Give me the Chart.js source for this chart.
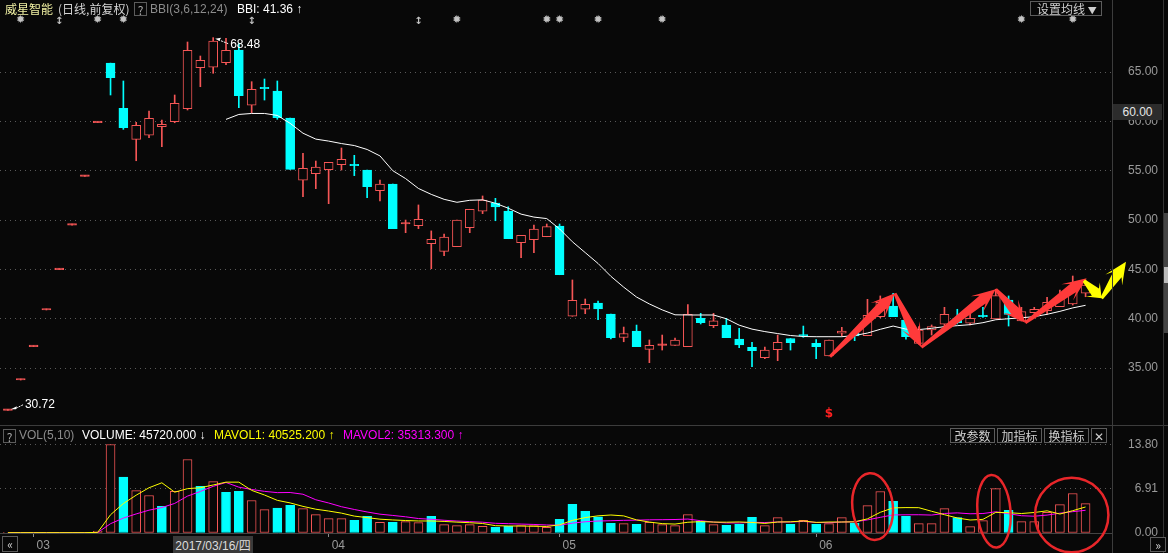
<!DOCTYPE html>
<html>
<head>
<meta charset="utf-8">
<script src="https://cdn.jsdelivr.net/npm/chart.js@4.4.1/dist/chart.umd.min.js"></script>
<style>
html, body { margin: 0; padding: 0; background: #080808; }
#wrap { position: relative; width: 1168px; height: 553px; overflow: hidden; background: #080808;
        font-family: 'Liberation Sans', Arial, 'Noto Sans CJK SC', sans-serif; font-size: 12px; }
.abs { position: absolute; white-space: nowrap; }
.cjk { font-family: 'Noto Sans CJK SC', sans-serif; }
.btn { position: absolute; border: 1px solid #5c5c5c; color: #cfcfcf; font-family: 'Noto Sans CJK SC', sans-serif;
       font-size: 12px; line-height: 13px; text-align: center; box-sizing: border-box; background: #080808; }
</style>
</head>
<body>
<div id="wrap">
  <div class="abs" style="left:0;top:0;width:1168px;height:425px"><canvas id="main"></canvas></div>
  <div class="abs" style="left:0;top:427px;width:1168px;height:126px"><canvas id="vol"></canvas></div>

  <!-- 分隔线 -->
  <div class="abs" style="left:0;top:425px;width:1168px;height:1px;background:#3c3c3c"></div>
  <div class="abs" style="left:1112px;top:0;width:1px;height:553px;background:#3c3c3c"></div>
  <div class="abs" style="left:1163px;top:0;width:1px;height:553px;background:#333"></div>
  <div class="abs" style="left:1164px;top:213px;width:4px;height:120px;background:#444"></div>
  <div class="abs" style="left:1164px;top:267px;width:4px;height:16px;background:#bbb"></div>

  <!-- 标题 -->
  <div class="abs cjk" style="left:5px;top:0;line-height:18px;color:#f2f2a4">威星智能</div>
  <div class="abs cjk" style="left:58px;top:0;line-height:18px;color:#d4d4d4">(日线,前复权)</div>
  <div class="btn" style="left:134px;top:2px;width:13px;height:14px;color:#aaa">?</div>
  <div class="abs" style="left:150px;top:0;line-height:18px;color:#8c8c8c">BBI(3,6,12,24)</div>
  <div class="abs" style="left:237px;top:0;line-height:18px;color:#ffffff">BBI: 41.36 ↑</div>
  <div class="btn" style="left:1030px;top:1px;width:72px;height:15px;text-align:left;padding-left:6px">设置均线 <span style="font-size:9px">▼</span></div>

  <!-- 十字光标价格 -->
  <div class="abs" style="left:1113px;top:104px;width:49px;height:16px;background:#2c2c2c;color:#e6e6e6;line-height:16px;text-align:center">60.00</div>

  <!-- 成交量标题 -->
  <div class="btn" style="left:3px;top:429px;width:13px;height:14px;color:#aaa">?</div>
  <div class="abs" style="left:19px;top:428px;line-height:15px;color:#8c8c8c">VOL(5,10)</div>
  <div class="abs" style="left:82px;top:428px;line-height:15px;color:#ffffff">VOLUME: 45720.000 ↓</div>
  <div class="abs" style="left:214px;top:428px;line-height:15px;color:#ffff00">MAVOL1: 40525.200 ↑</div>
  <div class="abs" style="left:343px;top:428px;line-height:15px;color:#ff00ff">MAVOL2: 35313.300 ↑</div>
  <div class="btn" style="left:950px;top:428px;width:45px;height:15px">改参数</div>
  <div class="btn" style="left:997px;top:428px;width:45px;height:15px">加指标</div>
  <div class="btn" style="left:1044px;top:428px;width:45px;height:15px">换指标</div>
  <div class="btn" style="left:1091px;top:428px;width:16px;height:15px">✕</div>

  <!-- 底部 -->
  <div class="btn" style="left:2px;top:536px;width:16px;height:16px;line-height:14px">«</div>
  <div class="btn" style="left:1150px;top:537px;width:16px;height:15px;line-height:13px">»</div>
  <div class="abs" style="left:173px;top:536px;width:80px;height:17px;background:#3a3a3a;color:#dcdcdc;line-height:17px;text-align:center">2017/03/16/<span class="cjk">四</span></div>
</div>

<script>
// 日K数据 (2017-02 ~ 2017-06), 单位: 元 / 万手
const opens  = [30.72,33.79,37.17,40.89,44.98,49.48,54.43,59.87,65.9,61.32,
                58.18,58.59,59.46,59.96,61.28,65.44,65.48,65.94,67.23,61.63,
                63.4,63.07,60.34,54.03,54.7,55.1,55.6,55.6,55.07,52.97,
                53.65,49.6,49.43,47.6,46.83,47.3,49.23,50.9,51.73,50.92,
                47.7,48.0,48.31,49.4,40.25,40.96,41.6,40.48,38.1,38.76,
                36.9,37.3,37.3,37.17,40.04,39.3,39.37,37.95,37.11,36.05,
                36.87,38.0,38.4,37.51,36.23,38.53,38.53,38.28,40.21,41.29,
                39.87,37.51,38.86,39.44,40.04,39.54,40.25,39.98,41.9,39.77,
                40.62,40.82,41.22,41.49,42.58];
const highs  = [30.72,33.79,37.17,40.89,44.98,49.48,54.43,59.87,65.9,64.09,
                59.9,61.05,60.14,62.67,68.04,66.62,68.48,68.41,67.9,64.02,
                64.29,64.09,60.34,56.76,55.98,55.85,57.3,56.56,55.07,54.06,
                53.65,50.0,51.53,48.9,48.59,50.0,51.09,52.44,52.2,51.35,
                48.45,49.5,49.6,49.6,43.93,42.0,41.8,40.48,39.16,39.36,
                37.85,38.35,38.05,41.43,40.55,40.55,40.04,39.03,37.62,37.14,
                38.35,38.0,39.26,37.9,37.85,39.13,38.86,41.97,42.31,42.58,
                39.87,39.2,39.37,41.16,40.96,40.45,41.16,42.99,42.31,41.16,
                41.16,42.17,42.91,44.33,43.93];
const lows   = [30.72,33.79,37.17,40.89,44.98,49.48,54.43,59.87,62.67,59.19,
                56.01,58.34,57.43,59.86,61.15,63.51,64.87,65.74,61.38,60.88,
                62.16,60.21,55.14,52.37,53.18,51.66,55.07,54.5,52.26,51.93,
                49.13,48.72,49.13,45.07,46.39,47.3,48.72,50.65,49.93,48.11,
                46.19,46.69,48.31,44.46,40.25,40.51,39.9,37.95,37.67,37.17,
                35.55,36.83,37.3,37.17,39.47,39.1,38.08,37.07,35.14,35.95,
                35.75,36.83,38.12,35.95,36.23,38.25,37.78,38.28,40.1,40.21,
                37.92,37.44,38.35,39.1,39.47,39.37,40.14,39.98,39.26,39.77,
                40.55,40.45,41.22,41.39,42.23];
const closes = [30.72,33.79,37.17,40.89,44.98,49.48,54.43,59.87,64.42,59.36,
                59.6,60.31,59.7,61.83,67.2,66.19,68.14,67.2,62.6,63.25,
                63.3,60.37,55.14,55.24,55.37,55.85,56.15,55.5,53.38,53.65,
                49.13,49.7,50.07,48.05,48.28,50.0,51.09,52.03,51.32,48.11,
                48.45,49.09,49.33,44.46,41.87,41.46,41.0,38.08,38.51,37.17,
                37.3,37.38,37.85,40.45,39.6,39.8,38.08,37.34,36.76,36.83,
                37.62,37.57,38.25,37.17,37.85,38.76,38.25,40.35,41.67,40.21,
                38.18,38.86,39.2,40.45,39.6,40.04,40.2,42.34,40.45,40.72,
                40.96,41.67,42.23,42.99,43.42];
const volumes = [0.05,0.05,0.05,0.05,0.05,0.05,0.05,0.3,13.77,8.68,
                 6.6,5.83,4.16,6.5,11.43,7.27,8.0,6.34,6.5,5.05,
                 3.64,3.89,4.31,3.8,2.87,2.24,2.24,1.98,2.6,1.67,
                 1.67,1.78,1.62,2.6,1.31,1.15,1.31,1.04,0.89,1.04,
                 1.15,1.15,0.89,2.13,4.47,3.38,2.5,1.51,1.46,1.36,
                 1.67,1.3,1.15,2.87,1.87,1.3,1.2,1.36,2.45,1.15,
                 2.4,1.36,1.98,1.36,1.46,2.4,1.51,4.27,6.45,4.94,
                 2.6,1.46,1.46,3.8,2.4,1.0,1.93,6.91,3.54,1.78,
                 1.78,3.22,4.42,6.14,4.57];
const mavol1 = [0.05,0.05,0.05,0.05,0.05,0.05,0.05,0.1,2.84,4.58,
                5.88,7.04,7.81,6.35,6.9,7.04,7.47,7.91,7.91,6.63,
                5.91,5.08,4.68,4.14,3.7,3.42,3.09,2.63,2.39,2.15,
                2.03,1.94,1.87,1.87,1.8,1.69,1.6,1.48,1.14,1.09,
                1.09,1.05,1.02,1.27,1.96,2.4,2.67,2.8,2.66,2.04,
                1.7,1.46,1.39,1.67,1.77,1.7,1.68,1.72,1.64,1.49,
                1.71,1.74,1.87,1.65,1.71,1.71,1.74,2.2,3.22,3.91,
                3.95,3.94,3.38,2.85,2.34,2.02,2.12,3.21,3.16,3.03,
                3.19,3.45,2.95,3.47,4.05];
const mavol2 = [0.05,0.05,0.05,0.05,0.05,0.05,0.05,0.08,1.45,2.32,
                2.97,3.55,3.96,4.6,5.74,6.46,7.26,7.86,7.13,6.77,
                6.48,6.28,6.3,6.03,5.17,4.67,4.09,3.66,3.27,2.93,
                2.73,2.52,2.25,2.13,1.98,1.86,1.77,1.68,1.51,1.45,
                1.39,1.33,1.25,1.21,1.53,1.75,1.86,1.91,1.97,2.0,
                2.05,2.07,2.1,2.17,1.91,1.7,1.57,1.56,1.66,1.63,
                1.71,1.71,1.8,1.65,1.6,1.71,1.74,2.04,2.44,2.81,
                2.83,2.84,2.79,3.04,3.13,2.99,3.03,3.3,3.0,2.69,
                2.61,2.79,3.08,3.32,3.53];
// BBI(3,6,12,24) 从第17根K线开始
const bbiStart = 17;
const bbi = [60.2,60.7,60.8,60.8,60.6,59.8,58.8,58.2,58.0,57.75,
             57.55,57.15,56.5,55.0,54.2,53.2,52.6,52.1,51.8,52.0,
             52.05,51.7,51.2,50.6,50.3,50.15,49.1,47.8,46.7,45.6,
             44.3,43.2,42.2,41.5,40.9,40.4,40.38,40.38,40.38,40.0,
             39.35,38.95,38.7,38.5,38.3,38.2,38.18,38.18,38.18,38.3,
             38.55,38.93,39.26,38.95,38.9,39.03,39.2,39.3,39.4,39.6,
             39.9,40.0,40.1,40.21,40.45,40.75,41.1,41.36];

const priceTicks = [35, 40, 45, 50, 55, 60, 65];
const volTicks = [0, 6.91, 13.80];
const monthIdx = [2, 25, 43, 63];
const monthLabels = ['03', '04', '05', '06'];

// 信息地雷位置
const starIdx = [1, 7, 9, 35, 42, 43, 46, 51, 79, 83];
const diamondIdx = [4, 19, 32];
const dollarIdx = 64;

// 手绘箭头 [起点序号, 起点价, 终点序号, 终点价]
const redArrows = [
  [64.08, 36.16, 69.14, 42.58],
  [69.14, 42.58, 71.2, 37.11],
  [71.2, 37.11, 77.0, 42.98],
  [77.0, 42.98, 79.3, 39.6],
  [79.3, 39.6, 84.08, 44.1]
];
const yellowArrows = [
  [83.87, 43.86, 85.25, 42.07],
  [85.25, 42.07, 87.15, 45.78]
];
// 成交量圈 [中心序号, 中心量, 半径(序号), 半径(量), 旋转]
const volCircles = [
  [67.4, 4.11, 1.58, 5.2, -0.1],
  [76.86, 3.38, 1.29, 5.65, -0.08],
  [82.92, 2.8, 2.86, 5.8, 0]
];

const RED = '#f55656';
const CYAN = '#00ffff';
const BG = '#080808';
const GRID = '#5a5a5a';
const XMIN = -0.616, XMAX = 86.06;

const idx = closes.map((c, i) => i);
const candleUp = closes.map((c, i) => c >= opens[i]);
const volUp = closes.map((c, i) => i === 0 || c >= closes[i - 1]);

Chart.defaults.font.family = "'Liberation Sans', Arial, sans-serif";
Chart.defaults.font.size = 12;
Chart.defaults.color = '#9a9a9a';

function fixY(s) { s.width = 56; s.paddingTop = 0; s.paddingBottom = 0; }

function fatArrow(ctx, x1, y1, x2, y2, color) {
  const dx = x2 - x1, dy = y2 - y1;
  const len = Math.hypot(dx, dy);
  const ux = dx / len, uy = dy / len, nx = -uy, ny = ux;
  const head = Math.min(24, len * 0.5), hw = 10, w0 = 1.5, w1 = 5;
  const bx = x2 - ux * head, by = y2 - uy * head;
  const nbx = x2 - ux * head * 0.7, nby = y2 - uy * head * 0.7;
  ctx.fillStyle = color;
  ctx.beginPath();
  ctx.moveTo(x1 + nx * w0, y1 + ny * w0);
  ctx.lineTo(nbx + nx * w1, nby + ny * w1);
  ctx.lineTo(bx + nx * hw, by + ny * hw);
  ctx.lineTo(x2, y2);
  ctx.lineTo(bx - nx * hw, by - ny * hw);
  ctx.lineTo(nbx - nx * w1, nby - ny * w1);
  ctx.lineTo(x1 - nx * w0, y1 - ny * w0);
  ctx.closePath();
  ctx.fill();
}

const mainDecor = {
  id: 'mainDecor',
  afterDraw(chart) {
    const { ctx, scales: { x, y } } = chart;
    ctx.save();
    // 信息地雷
    ctx.fillStyle = '#c4c4c4';
    ctx.textAlign = 'center';
    ctx.textBaseline = 'middle';
    ctx.font = "bold 11px 'DejaVu Sans'";
    starIdx.forEach(i => ctx.fillText('✹', x.getPixelForValue(i), 20));
    ctx.font = "bold 10px 'DejaVu Sans'";
    diamondIdx.forEach(i => ctx.fillText('↕', x.getPixelForValue(i), 21));

    // 最高价 / 最低价标注
    const hi = Math.max(...highs), hiI = highs.indexOf(hi);
    const lo = Math.min(...lows), loI = lows.indexOf(lo);
    ctx.strokeStyle = '#ffffff';
    ctx.fillStyle = '#ffffff';
    ctx.lineWidth = 1;
    let hx = x.getPixelForValue(hiI), hy = y.getPixelForValue(hi);
    ctx.beginPath(); ctx.moveTo(hx + 2, hy + 1); ctx.lineTo(hx + 8, hy); ctx.lineTo(hx + 6, hy + 3); ctx.closePath(); ctx.fill();
    ctx.setLineDash([2, 1]);
    ctx.beginPath(); ctx.moveTo(hx + 5, hy + 2); ctx.lineTo(hx + 15, hy + 6); ctx.stroke();
    ctx.setLineDash([]);
    ctx.font = "12px 'Liberation Sans'";
    ctx.textAlign = 'left';
    ctx.fillText(hi.toFixed(2), hx + 17, hy + 7);
    let lx = x.getPixelForValue(loI), ly = y.getPixelForValue(lo);
    ctx.beginPath(); ctx.moveTo(lx + 3, ly - 1); ctx.lineTo(lx + 9, ly - 4); ctx.lineTo(lx + 8, ly - 1); ctx.closePath(); ctx.fill();
    ctx.setLineDash([2, 1]);
    ctx.beginPath(); ctx.moveTo(lx + 8, ly - 2); ctx.lineTo(lx + 16, ly - 6); ctx.stroke();
    ctx.setLineDash([]);
    ctx.fillText(lo.toFixed(2), lx + 17, ly - 6);

    // $ 标记
    ctx.fillStyle = '#ff2020';
    ctx.font = "bold 12px 'DejaVu Sans'";
    ctx.textAlign = 'center';
    ctx.fillText('$', x.getPixelForValue(dollarIdx), 414);

    // 手绘箭头
    redArrows.forEach(a => fatArrow(ctx, x.getPixelForValue(a[0]), y.getPixelForValue(a[1]),
      x.getPixelForValue(a[2]), y.getPixelForValue(a[3]), '#ff3a3a'));
    yellowArrows.forEach(a => fatArrow(ctx, x.getPixelForValue(a[0]), y.getPixelForValue(a[1]),
      x.getPixelForValue(a[2]), y.getPixelForValue(a[3]), '#ffff00'));
    ctx.restore();
  }
};

const volDecor = {
  id: 'volDecor',
  afterDraw(chart) {
    const { ctx, scales: { x, y } } = chart;
    ctx.save();
    ctx.strokeStyle = '#e8262a';
    ctx.lineWidth = 2.5;
    volCircles.forEach(c => {
      const cx = x.getPixelForValue(c[0]), cy = y.getPixelForValue(c[1]);
      const rx = Math.abs(x.getPixelForValue(c[0] + c[2]) - cx);
      const ry = Math.abs(y.getPixelForValue(c[1] + c[3]) - cy);
      ctx.beginPath();
      ctx.ellipse(cx, cy, rx, ry, c[4], 0, Math.PI * 2);
      ctx.stroke();
    });
    ctx.restore();
  }
};

new Chart(document.getElementById('main'), {
  type: 'bar',
  data: {
    datasets: [
      {
        type: 'line',
        data: bbi.map((v, k) => ({ x: bbiStart + k, y: v })),
        borderColor: '#ffffff',
        borderWidth: 1,
        pointRadius: 0,
        tension: 0,
        order: 0
      },
      {
        data: idx.map(i => ({ x: i, y: [opens[i], closes[i]] })),
        backgroundColor: idx.map(i => candleUp[i] ? (Math.abs(opens[i] - closes[i]) < 0.15 ? RED : BG) : CYAN),
        borderColor: idx.map(i => candleUp[i] ? RED : CYAN),
        borderWidth: 1,
        borderSkipped: false,
        barThickness: 9,
        minBarLength: 1.5,
        grouped: false,
        order: 1
      },
      {
        data: idx.map(i => ({ x: i, y: [lows[i], highs[i]] })),
        backgroundColor: idx.map(i => candleUp[i] ? RED : CYAN),
        borderWidth: 0,
        barThickness: 1,
        minBarLength: 1,
        grouped: false,
        order: 2
      }
    ]
  },
  options: {
    responsive: true,
    maintainAspectRatio: false,
    animation: false,
    events: [],
    layout: { padding: { top: 28, left: 0, right: 0, bottom: 0 } },
    plugins: { legend: { display: false }, tooltip: { enabled: false } },
    scales: {
      x: { type: 'linear', min: XMIN, max: XMAX, offset: false, display: false },
      y: {
        position: 'right',
        min: 29.235,
        max: 69.458,
        afterBuildTicks: s => { s.ticks = priceTicks.map(v => ({ value: v })); },
        afterFit: fixY,
        ticks: { callback: v => v.toFixed(2), padding: 16, crossAlign: 'near', color: '#9a9a9a' },
        grid: { color: GRID, drawTicks: false, lineWidth: 1 },
        border: { display: false, dash: [1, 4] }
      }
    }
  },
  plugins: [mainDecor]
});

new Chart(document.getElementById('vol'), {
  type: 'bar',
  data: {
    datasets: [
      {
        type: 'line',
        data: idx.map(i => ({ x: i, y: mavol1[i] })),
        borderColor: '#ffff00',
        borderWidth: 1,
        pointRadius: 0,
        tension: 0,
        order: 0
      },
      {
        type: 'line',
        data: idx.map(i => ({ x: i, y: mavol2[i] })),
        borderColor: '#ff00ff',
        borderWidth: 1,
        pointRadius: 0,
        tension: 0,
        order: 0
      },
      {
        data: idx.map(i => ({ x: i, y: volumes[i] })),
        backgroundColor: idx.map(i => volUp[i] ? BG : CYAN),
        borderColor: idx.map(i => volUp[i] ? RED : CYAN),
        borderWidth: 1,
        borderSkipped: false,
        barThickness: 9,
        order: 1
      }
    ]
  },
  options: {
    responsive: true,
    maintainAspectRatio: false,
    animation: false,
    events: [],
    layout: { padding: { top: 0, left: 0, bottom: 0, right: 10 } },
    plugins: { legend: { display: false }, tooltip: { enabled: false } },
    scales: {
      x: {
        type: 'linear', min: XMIN, max: XMAX, offset: false,
        afterBuildTicks: s => { s.ticks = monthIdx.map(v => ({ value: v })); },
        afterFit: s => { s.height = 20; s.paddingLeft = 0; s.paddingRight = 0; },
        ticks: { callback: v => monthLabels[monthIdx.indexOf(v)], align: 'start', labelOffset: 3, padding: 1, maxRotation: 0, autoSkip: false, color: '#9a9a9a' },
        grid: { offset: false, drawOnChartArea: false, drawTicks: true, tickLength: 4, tickColor: '#8a8a8a' },
        border: { display: true, color: '#444' }
      },
      y: {
        position: 'right',
        min: 0,
        max: 16.49,
        afterBuildTicks: s => { s.ticks = volTicks.map(v => ({ value: v })); },
        afterFit: s => { s.width = 46; s.paddingTop = 0; s.paddingBottom = 0; },
        ticks: { callback: v => v.toFixed(2), padding: 4, crossAlign: 'far', color: '#9a9a9a' },
        grid: { color: c => c.tick && c.tick.value === 0 ? 'rgba(0,0,0,0)' : GRID, drawTicks: false },
        border: { display: false, dash: [1, 4] }
      }
    }
  },
  plugins: [volDecor]
});
</script>
</body>
</html>
